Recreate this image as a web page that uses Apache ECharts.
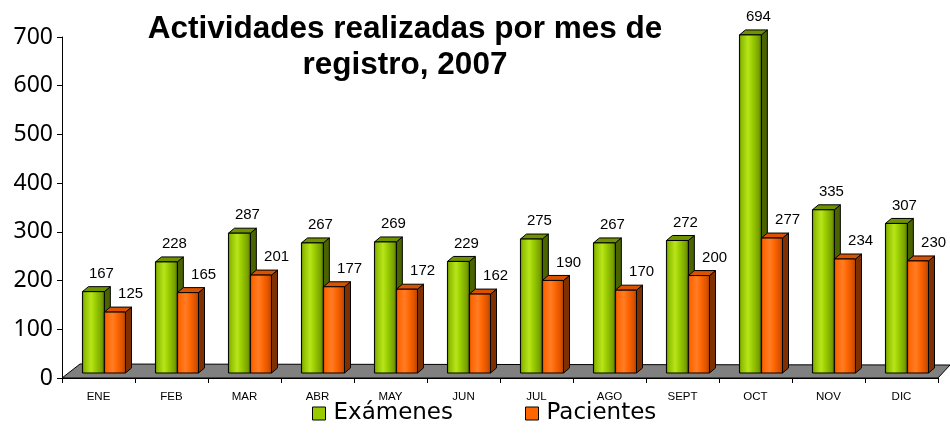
<!DOCTYPE html>
<html>
<head>
<meta charset="utf-8">
<script src="https://cdn.jsdelivr.net/npm/echarts@6/dist/echarts.min.js"></script>
<style>
  html, body { margin: 0; padding: 0; background: #fff; }
  #vis { width: 950px; height: 444px; }
</style>
</head>
<body>
<div id="vis"></div>
<script>
const months = ['ENE', 'FEB', 'MAR', 'ABR', 'MAY', 'JUN', 'JUL', 'AGO', 'SEPT', 'OCT', 'NOV', 'DIC'];
const examenes = [167, 228, 287, 267, 269, 229, 275, 267, 272, 694, 335, 307];
const pacientes = [125, 165, 201, 177, 172, 162, 190, 170, 200, 277, 234, 230];
const yTicks = [0, 100, 200, 300, 400, 500, 600, 700];

const chart = echarts.init(document.getElementById('vis'), null, {renderer: 'canvas'});

// colours for the fake 3d faces
const looks = [
  {
    front: [[0, '#5f8000'], [0.12, '#8fbf00'], [0.4, '#b8e51a'], [0.6, '#99cc00'], [0.85, '#7aa300'], [1, '#557300']],
    top: '#6f9200',
    side: '#4a6400',
    labelDx: 0.04,
    x0: -0.22,
    x1: 0.08
  },
  {
    front: [[0, '#b34300'], [0.12, '#ff6600'], [0.4, '#ff7d26'], [0.6, '#ff6600'], [0.85, '#d95200'], [1, '#a33d00']],
    top: '#d95200',
    side: '#803000',
    labelDx: 0.44,
    x0: 0.08,
    x1: 0.37
  }
];

const depthX = 6;
const depthY = 5;
const lift = 5; // bars stand on the middle of the floor

function barRenderer(look) {
  return function (params, api) {
    const idx = api.value(0);
    const val = api.value(1);
    const base = api.coord([idx, 0]);
    const top = api.coord([idx, val]);
    const bw = api.size([1, 0])[0];
    const xl = base[0] + look.x0 * bw;
    const xr = base[0] + look.x1 * bw;
    const yb = base[1] - lift;
    const yt = top[1] - lift;
    const edge = {stroke: '#000', lineWidth: 1};
    return {
      type: 'group',
      children: [
        {
          type: 'polygon',
          shape: {points: [[xr, yb], [xr + depthX, yb - depthY], [xr + depthX, yt - depthY], [xr, yt]]},
          style: Object.assign({fill: look.side}, edge)
        },
        {
          type: 'polygon',
          shape: {points: [[xl, yt], [xl + depthX, yt - depthY], [xr + depthX, yt - depthY], [xr, yt]]},
          style: Object.assign({fill: look.top}, edge)
        },
        {
          type: 'rect',
          shape: {x: xl, y: yt, width: xr - xl, height: yb - yt},
          style: Object.assign({
            fill: {
              type: 'linear', x: 0, y: 0, x2: 1, y2: 0,
              colorStops: look.front.map(s => ({offset: s[0], color: s[1]}))
            }
          }, edge)
        },
        {
          type: 'text',
          style: {
            x: base[0] + look.labelDx * bw,
            y: yt - 18,
            text: String(val),
            fill: '#000',
            font: '15px "Liberation Sans", Arial, sans-serif',
            align: 'center',
            verticalAlign: 'middle'
          }
        }
      ]
    };
  };
}

function floorRenderer(params, api) {
  const cs = params.coordSys;
  const y0 = cs.y + cs.height;
  const x0 = cs.x;
  const x1 = cs.x + cs.width;
  return {
    type: 'polygon',
    shape: {points: [[x0, y0], [x0 + 18, y0 - 14], [x1 + 12, y0 - 13], [x1, y0]]},
    style: {fill: '#808080', stroke: '#000', lineWidth: 1}
  };
}

const option = {
  animation: false,
  title: {
    text: 'Actividades realizadas por mes de\nregistro, 2007',
    left: 400,
    top: 6,
    textAlign: 'center',
    textStyle: {
      fontFamily: '"Liberation Sans", Arial, sans-serif',
      fontWeight: 'bold',
      fontSize: 31.5,
      lineHeight: 36,
      color: '#000'
    }
  },
  legend: {
    data: ['Exámenes', 'Pacientes'],
    left: 307,
    top: 397,
    icon: 'rect',
    itemWidth: 13,
    itemHeight: 13,
    itemGap: 72,
    itemStyle: {borderColor: '#000', borderWidth: 1},
    textStyle: {fontFamily: '"DejaVu Sans", sans-serif', fontSize: 23, color: '#000', padding: [0, 0, 0, 3]}
  },
  grid: {left: 62, right: 12, top: 37, bottom: 66},
  xAxis: {
    type: 'category',
    data: months,
    axisLine: {lineStyle: {color: '#000', width: 1}},
    axisTick: {show: true, length: 5, lineStyle: {color: '#000'}},
    axisLabel: {
      color: '#000',
      fontFamily: '"Liberation Sans", Arial, sans-serif',
      fontSize: 11.5,
      margin: 13
    },
    splitLine: {show: false}
  },
  yAxis: {
    type: 'value',
    min: yTicks[0],
    max: yTicks[yTicks.length - 1],
    interval: 100,
    axisLine: {show: true, lineStyle: {color: '#000', width: 1}},
    axisTick: {show: true, length: 5, lineStyle: {color: '#000'}},
    axisLabel: {
      color: '#000',
      fontFamily: '"Noto Sans", sans-serif',
      fontSize: 23,
      margin: 9
    },
    splitLine: {show: false}
  },
  series: [
    {
      name: 'floor',
      type: 'custom',
      z: 1,
      silent: true,
      renderItem: floorRenderer,
      data: [[0, 0]]
    },
    {
      name: 'Exámenes',
      type: 'custom',
      z: 3,
      itemStyle: {color: '#99cc00'},
      renderItem: barRenderer(looks[0]),
      data: examenes.map((v, i) => [i, v])
    },
    {
      name: 'Pacientes',
      type: 'custom',
      z: 3,
      itemStyle: {color: '#ff6600'},
      renderItem: barRenderer(looks[1]),
      data: pacientes.map((v, i) => [i, v])
    }
  ]
};

chart.setOption(option);
</script>
</body>
</html>
